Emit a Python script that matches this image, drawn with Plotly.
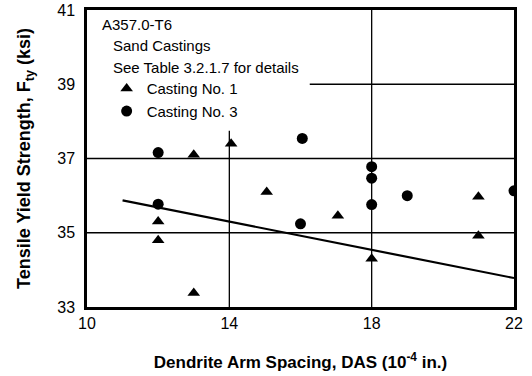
import plotly.graph_objects as go

# Casting No. 1 (triangles)
c1_das = [12, 12, 13, 13, 14.05, 15.05, 17.05, 18, 21, 21]
c1_fty = [35.3, 34.8, 33.38, 37.1, 37.4, 36.1, 35.46, 34.3, 35.97, 34.92]
# Casting No. 3 (circles)
c3_das = [12, 12, 16.05, 16, 18, 18, 18, 19, 22]
c3_fty = [37.16, 35.77, 37.54, 35.24, 36.78, 36.47, 35.76, 36.0, 36.13]
# Regression line
fit_das = [11.0, 22.0]
fit_fty = [35.87, 33.78]

x_ticks = [10, 14, 18, 22]
y_ticks = [33, 35, 37, 39, 41]

FONT = "Liberation Sans, Arial, sans-serif"

fig = go.Figure()
fig.add_trace(go.Scatter(x=fit_das, y=fit_fty, mode="lines",
                         line=dict(color="black", width=2.2), showlegend=False))
fig.add_trace(go.Scatter(x=c1_das, y=c1_fty, mode="markers", name="Casting No. 1",
                         marker=dict(symbol="triangle-up", size=11, color="black")))
fig.add_trace(go.Scatter(x=c3_das, y=c3_fty, mode="markers", name="Casting No. 3",
                         marker=dict(symbol="circle", size=11, color="black")))

# grid lines (partial as in original)
grid = [
    dict(x0=10, x1=22, y0=35, y1=35),
    dict(x0=10, x1=22, y0=37, y1=37),
    dict(x0=16.26, x1=22, y0=39, y1=39),
    dict(x0=14, x1=14, y0=33, y1=37.75),
    dict(x0=18, x1=18, y0=33, y1=41),
]
for g in grid:
    fig.add_shape(type="line", xref="x", yref="y", line=dict(color="black", width=1.3),
                  layer="below", **g)

ann_font = dict(family=FONT, size=15, color="black")
fig.add_annotation(x=10.36, y=40.62, xref="x", yref="y", text="A357.0-T6",
                   showarrow=False, xanchor="left", yanchor="middle", font=ann_font)
fig.add_annotation(x=10.67, y=40.04, xref="x", yref="y", text="Sand Castings",
                   showarrow=False, xanchor="left", yanchor="middle", font=ann_font)
fig.add_annotation(x=10.67, y=39.46, xref="x", yref="y", text="See Table 3.2.1.7 for details",
                   showarrow=False, xanchor="left", yanchor="middle", font=ann_font)

fig.update_layout(
    width=532, height=376,
    margin=dict(l=87, r=18, t=10, b=69),
    paper_bgcolor="white", plot_bgcolor="white",
    font=dict(family=FONT, color="black"),
    legend=dict(x=0.046, y=0.79, xanchor="left", yanchor="top",
                bgcolor="rgba(0,0,0,0)", font=dict(family=FONT, size=15),
                itemwidth=30, tracegroupgap=0),
    xaxis=dict(range=[10, 22], tickvals=x_ticks, showgrid=False, zeroline=False,
               showline=True, linecolor="black", linewidth=2.5, mirror=True,
               ticks="", tickfont=dict(size=16), automargin=False,
               title=dict(text="<b>Dendrite Arm Spacing, DAS (10<sup>-4</sup> in.)</b>",
                          font=dict(size=17), standoff=26)),
    yaxis=dict(range=[33, 41], tickvals=y_ticks, showgrid=False, zeroline=False,
               showline=True, linecolor="black", linewidth=2.5, mirror=True,
               ticks="", tickfont=dict(size=16), automargin=False, ticklabelstandoff=6,
               title=dict(text="<b>Tensile Yield Strength, F<sub>ty</sub> (ksi)</b>",
                          font=dict(size=18), standoff=22)),
)

fig.write_html("out.html")
